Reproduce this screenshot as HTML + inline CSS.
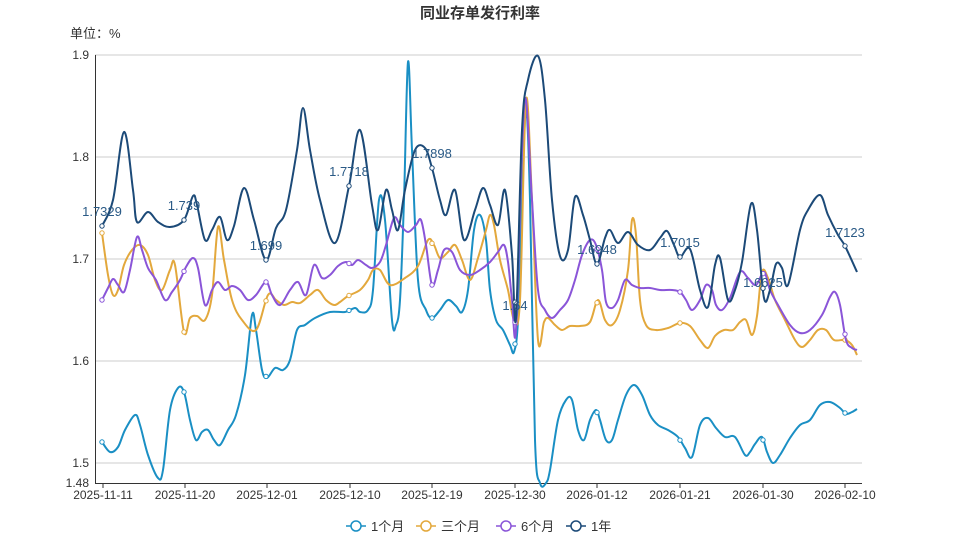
<!DOCTYPE html>
<html><head><meta charset="utf-8"><style>
html,body{margin:0;padding:0;background:#fff;}
svg{display:block;font-family:"Liberation Sans","Noto Sans CJK SC",sans-serif;}
</style></head><body>
<svg id="s" width="959" height="539" viewBox="0 0 959 539">
<text x="480" y="18" text-anchor="middle" font-size="15" font-weight="bold" fill="#333">同业存单发行利率</text>
<text x="70" y="38" font-size="13" fill="#333">单位：%</text>
<g stroke="#ddd" stroke-width="1">
<line x1="95" y1="55" x2="862" y2="55" stroke="#e6e6e6" stroke-width="2"/>
<line x1="95" y1="157" x2="862" y2="157" stroke="#ccc"/>
<line x1="95" y1="259" x2="862" y2="259" stroke="#ccc"/>
<line x1="95" y1="361" x2="862" y2="361" stroke="#ccc"/>
<line x1="95" y1="463" x2="862" y2="463" stroke="#ccc"/>
</g>
<line x1="95.5" y1="55" x2="95.5" y2="483" stroke="#333"/>
<line x1="95" y1="483.5" x2="862" y2="483.5" stroke="#333"/>
<g font-size="12" fill="#333" text-anchor="end">
<text x="89" y="59">1.9</text><text x="89" y="161">1.8</text><text x="89" y="263">1.7</text>
<text x="89" y="365">1.6</text><text x="89" y="467">1.5</text><text x="89" y="487">1.48</text>
</g>
<g id="xt" font-size="12" fill="#333" text-anchor="middle"></g>
<g id="series"></g>
<g font-size="13" fill="#333">
<line x1="346" y1="526" x2="366" y2="526" stroke="#1a8fc4" stroke-width="1.5"/><circle cx="356" cy="526" r="5" fill="#fff" stroke="#1a8fc4" stroke-width="1.5"/><text x="371" y="531">1个月</text>
<line x1="416" y1="526" x2="436" y2="526" stroke="#e3a83c" stroke-width="1.5"/><circle cx="426" cy="526" r="5" fill="#fff" stroke="#e3a83c" stroke-width="1.5"/><text x="441" y="531">三个月</text>
<line x1="496" y1="526" x2="516" y2="526" stroke="#8a55d8" stroke-width="1.5"/><circle cx="506" cy="526" r="5" fill="#fff" stroke="#8a55d8" stroke-width="1.5"/><text x="521" y="531">6个月</text>
<line x1="566" y1="526" x2="586" y2="526" stroke="#1c4a78" stroke-width="1.5"/><circle cx="576" cy="526" r="5" fill="#fff" stroke="#1c4a78" stroke-width="1.5"/><text x="591" y="531">1年</text>
</g>
</svg>
<script>
var NS="http://www.w3.org/2000/svg";
var ticks=[["2025-11-11",103],["2025-11-20",185],["2025-12-01",267],["2025-12-10",350],["2025-12-19",432],["2025-12-30",515],["2026-01-12",597],["2026-01-21",680],["2026-01-30",763],["2026-02-10",845]];
var xt=document.getElementById("xt");
ticks.forEach(function(t){var l=document.createElementNS(NS,"line");l.setAttribute("x1",t[1]);l.setAttribute("x2",t[1]);l.setAttribute("y1",483);l.setAttribute("y2",488);l.setAttribute("stroke","#333");xt.appendChild(l);
var e=document.createElementNS(NS,"text");e.setAttribute("x",t[1]);e.setAttribute("y",499);e.textContent=t[0];xt.appendChild(e);});
var mx=[102,184,266,349,432,515,597,680,763,845];
function P(a){var r=[];for(var i=0;i<a.length;i+=2)r.push([a[i],a[i+1]]);return r;}
var S=[
["#1a8fc4",P([102,442,110,452,118,447,125,430,135,415,140,425,148,455,158,478,163,470,170,410,178,388,184,392,190,420,196,440,202,432,208,430,214,440,220,445,228,430,236,415,245,375,252,315,256,330,262,370,267,378,275,368,283,370,290,360,297,330,305,325,315,318,330,312,345,312,355,308,360,312,368,310,373,290,379,200,385,220,392,320,396,325,400,300,404,200,408,62,412,150,418,280,426,310,432,318,440,310,448,300,456,306,462,312,468,290,474,230,480,215,486,240,490,290,496,320,503,330,510,345,514,352,518,320,522,200,526,110,530,200,535,440,540,483,546,483,550,470,558,420,566,400,572,400,578,430,584,440,590,420,596,410,600,420,606,440,612,440,618,420,626,395,634,385,642,395,650,415,658,425,668,430,678,437,685,448,692,457,700,425,708,418,716,428,725,437,735,437,745,455,750,452,755,444,762,437,767,452,773,463,780,455,790,438,800,425,810,420,820,405,830,402,840,408,846,414,852,412,857,409])],
["#e3a83c",P([102,233,108,275,113,295,118,290,124,265,132,250,140,245,148,255,155,280,162,290,170,270,175,265,184,332,190,318,197,316,205,320,212,295,218,227,224,260,232,300,242,320,256,330,268,295,276,300,284,305,292,302,300,303,310,295,318,290,326,300,334,305,340,302,348,296,360,290,368,280,373,270,380,270,390,285,405,278,418,266,428,240,434,245,440,258,448,252,455,245,462,260,470,280,478,258,486,230,490,215,494,225,500,260,508,290,514,320,520,300,526,100,532,200,538,340,544,322,548,318,555,325,562,330,570,326,580,326,590,322,598,300,605,320,612,325,620,310,628,270,632,220,636,235,640,300,646,325,656,330,668,328,680,323,690,326,700,340,708,348,715,336,724,330,733,330,740,322,746,320,752,335,757,316,762,272,768,278,775,300,785,320,795,340,802,347,810,340,818,330,826,330,834,340,845,340,852,345,857,355])],
["#8a55d8",P([102,300,108,288,113,279,118,285,124,292,130,270,137,237,142,250,148,268,156,280,165,300,172,292,180,280,186,267,193,258,198,268,205,305,212,290,218,282,225,290,232,286,240,290,248,300,256,295,266,282,272,295,280,305,290,290,298,282,306,295,314,265,322,278,330,275,338,266,346,262,352,265,358,260,366,265,372,268,380,262,386,245,394,218,400,225,408,232,416,225,421,220,426,245,432,285,438,270,444,250,452,252,460,270,470,275,480,270,490,262,498,252,504,245,508,262,512,300,516,330,522,150,526,100,532,200,538,290,545,310,552,318,560,310,568,300,575,280,582,255,590,240,596,245,602,270,606,302,612,308,618,300,625,280,632,285,640,288,650,288,660,290,672,290,680,292,686,300,692,310,700,300,706,285,712,290,716,305,722,310,730,298,740,272,748,278,756,285,764,272,770,290,778,305,790,325,800,333,810,330,822,315,830,297,835,292,840,305,846,340,852,348,857,350])],
["#1c4a78",P([102,226,113,200,124,132,133,190,137,222,148,212,158,222,170,227,184,220,193,196,197,205,205,240,212,230,220,217,227,240,234,226,244,188,254,220,266,260,276,228,286,210,297,150,303,108,310,150,320,200,335,243,349,186,360,130,372,205,378,230,386,190,392,210,398,230,405,190,415,150,425,148,432,168,440,200,446,215,455,190,464,240,475,210,483,188,490,205,498,225,505,190,512,255,516,318,522,130,528,80,538,56,545,100,552,200,560,256,568,250,575,197,583,215,590,240,597,264,605,238,610,230,618,243,628,232,638,245,650,250,660,238,667,231,674,245,680,257,690,249,700,290,708,307,715,265,720,258,728,300,735,290,742,262,751,204,757,230,764,298,770,290,776,264,782,268,788,285,800,230,808,210,820,195,828,215,838,235,845,246,857,272])]
];
var g=document.getElementById("series");
function cr(p){var d="M"+p[0][0]+","+p[0][1];for(var i=0;i<p.length-1;i++){var p0=p[i-1]||p[i],p1=p[i],p2=p[i+1],p3=p[i+2]||p2,t=0.17;
d+=" C"+(p1[0]+(p2[0]-p0[0])*t)+","+(p1[1]+(p2[1]-p0[1])*t)+" "+(p2[0]-(p3[0]-p1[0])*t)+","+(p2[1]-(p3[1]-p1[1])*t)+" "+p2[0]+","+p2[1];}return d;}
function yAt(p,x){for(var i=0;i<p.length-1;i++){if(x>=p[i][0]&&x<=p[i+1][0]){var f=(x-p[i][0])/(p[i+1][0]-p[i][0]||1);return p[i][1]+f*(p[i+1][1]-p[i][1]);}}return p[p.length-1][1];}
S.forEach(function(s){var pa=document.createElementNS(NS,"path");pa.setAttribute("d",cr(s[1]));pa.setAttribute("fill","none");pa.setAttribute("stroke",s[0]);pa.setAttribute("stroke-width","2");g.appendChild(pa);
mx.forEach(function(x){var c=document.createElementNS(NS,"circle");c.setAttribute("cx",x);c.setAttribute("cy",yAt(s[1],x));c.setAttribute("r",2.2);c.setAttribute("fill","#fff");c.setAttribute("stroke",s[0]);c.setAttribute("stroke-width","1");g.appendChild(c);});});
var labs=[["1.7329",102,216],["1.739",184,210],["1.699",266,250],["1.7718",349,176],["1.7898",432,158],["1.64",515,310],["1.6948",597,254],["1.7015",680,247],["1.6625",763,287],["1.7123",845,237]];
labs.forEach(function(l){var e=document.createElementNS(NS,"text");e.setAttribute("x",l[1]);e.setAttribute("y",l[2]);e.setAttribute("text-anchor","middle");e.setAttribute("font-size","13");e.setAttribute("fill","#2a5a86");e.textContent=l[0];g.appendChild(e);});
</script>
</body></html>
